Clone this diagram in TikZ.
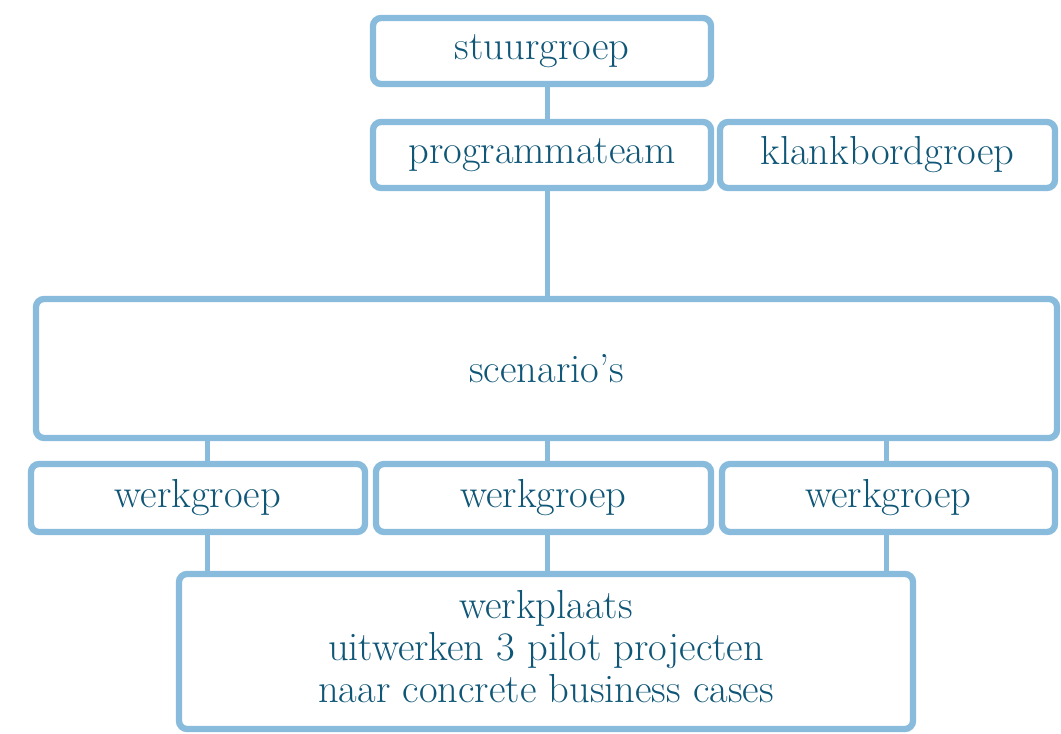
\documentclass[tikz,border=0pt]{standalone}
\usepackage{fontspec}
\setmainfont{Latin Modern Roman}
\definecolor{boxline}{HTML}{88BBDC}
\definecolor{boxtext}{HTML}{0F5677}
\tikzset{
  orgbox/.style={draw=boxline, line width=6.3pt, rounded corners=8pt, fill=white,
    inner sep=0pt, text=boxtext, font=\fontsize{40.5}{42}\selectfont, align=center},
  link/.style={draw=boxline, line width=5pt}
}
\begin{document}
\begin{tikzpicture}[x=1pt,y=-1pt]
\useasboundingbox (0,0) rectangle (1061,734);
\node[orgbox, minimum width=338pt, minimum height=66pt] (stuur) at (542,51) {stuurgroep};
\node[orgbox, minimum width=338pt, minimum height=66pt] (prog) at (542,155) {programmateam};
\node[orgbox, minimum width=335pt, minimum height=66pt] (klank) at (887.5,155) {klankbordgroep};
\node[orgbox, minimum width=1021pt, minimum height=139pt] (scen) at (546.5,368.5) {scenario's};
\node[orgbox, minimum width=334pt, minimum height=68pt] (wg1) at (198,498) {werkgroep};
\node[orgbox, minimum width=335pt, minimum height=68pt] (wg2) at (543.5,498) {werkgroep};
\node[orgbox, minimum width=333pt, minimum height=68pt] (wg3) at (888.5,498) {werkgroep};
\node[orgbox, minimum width=734pt, minimum height=155pt] (plaats) at (546,651.5) {werkplaats\\uitwerken 3 pilot projecten\\naar concrete business cases\rule[-10pt]{0pt}{10pt}};
\draw[link] (stuur.south -| 547,0) -- (prog.north -| 547,0);
\draw[link] (prog.south -| 547,0) -- (scen.north -| 547,0);
\draw[link] (scen.south -| 207,0) -- (wg1.north -| 207,0);
\draw[link] (scen.south -| 547,0) -- (wg2.north -| 547,0);
\draw[link] (scen.south -| 886,0) -- (wg3.north -| 886,0);
\draw[link] (wg1.south -| 207,0) -- (plaats.north -| 207,0);
\draw[link] (wg2.south -| 547,0) -- (plaats.north -| 547,0);
\draw[link] (wg3.south -| 886,0) -- (plaats.north -| 886,0);
\end{tikzpicture}
\end{document}
